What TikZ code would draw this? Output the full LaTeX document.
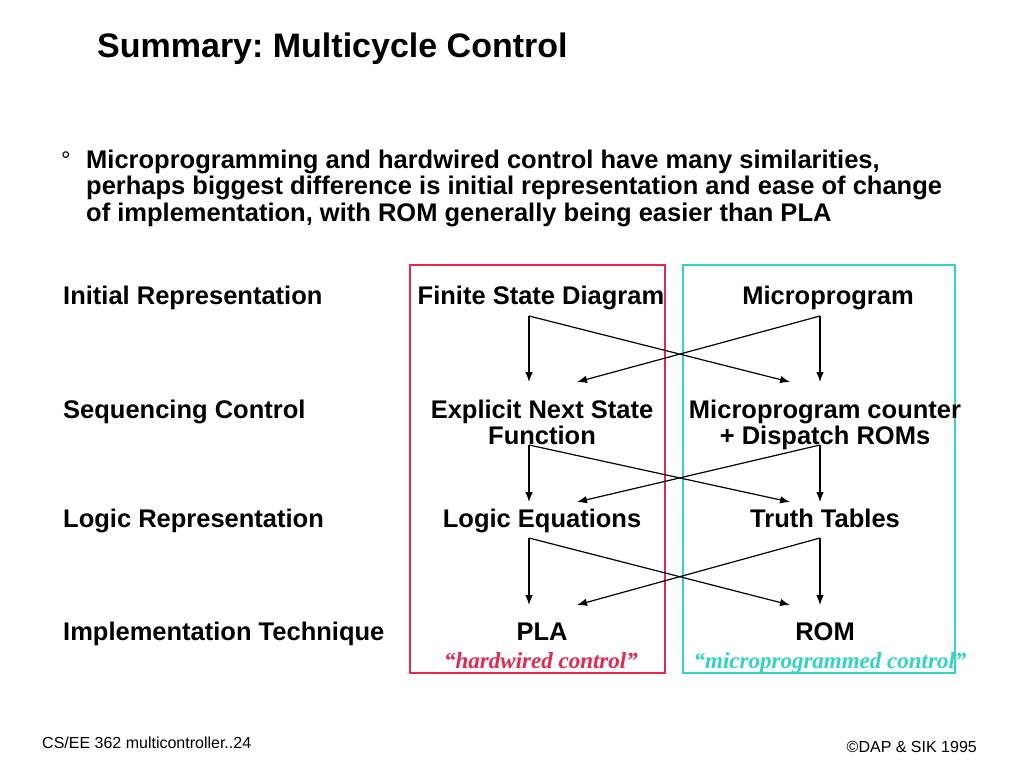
\documentclass[tikz,border=0pt]{standalone}
\usepackage{fontspec}
\setmainfont{Liberation Sans}
\newfontfamily\quotefont{Liberation Serif}
\usetikzlibrary{arrows.meta}
\frenchspacing
\definecolor{hwred}{RGB}{228,40,80}
\definecolor{mpcyan}{RGB}{50,212,192}
\tikzset{
  lbl/.style={anchor=base west, inner sep=0pt, font=\bfseries\fontsize{25.5}{26}\selectfont},
  item/.style={anchor=base, inner sep=0pt, align=center, font=\bfseries\fontsize{25.5}{26}\selectfont},
  quote/.style={anchor=base, inner sep=0pt, font=\quotefont\bfseries\itshape\fontsize{23}{26}\selectfont},
  flow/.style={-{Latex[length=10pt,width=7.5pt]}, line width=1.2pt},
}
\begin{document}
\begin{tikzpicture}[x=1pt,y=-1pt]
		\useasboundingbox (0,0) rectangle (1024,768);
		\node[anchor=base west, inner sep=0pt, font=\bfseries\fontsize{34}{36}\selectfont] (title) at (97,57) {Summary: Multicycle Control};
		\node[anchor=base west, inner sep=0pt, font=\fontsize{24}{26}\selectfont] (dot) at (61,168) {°};
		\node[anchor=base west, inner sep=0pt, align=left, font=\bfseries\fontsize{25.5}{26.5}\selectfont] (intro) at (86,221) {Microprogramming and hardwired control have many similarities,\\
			perhaps biggest difference is initial representation and ease of change\\
			of implementation, with ROM generally being easier than PLA};

		% row labels
		\node[lbl] (initial) at (63,304) {Initial Representation};
		\node[lbl] (sequencing) at (63,418) {Sequencing Control};
		\node[lbl] (logic) at (63,527) {Logic Representation};
		\node[lbl] (impl) at (63,640) {Implementation Technique};

		% the two columns
		\draw[draw=hwred, line width=1.6pt] (410,265) rectangle (665,673);
		\draw[draw=mpcyan, line width=1.6pt] (683,265) rectangle (955,673);

		\node[item] (fsd) at (541,304) {Finite State Diagram};
		\node[item] (mprog) at (828,304) {Microprogram};
		\node[item] (nextstate) at (542,444) {Explicit Next State\\Function};
		\node[item] (counter) at (825,444) {Microprogram counter\\+ Dispatch ROMs};
		\node[item] (equations) at (542,527) {Logic Equations};
		\node[item] (tables) at (825,527) {Truth Tables};
		\node[item] (pla) at (542,640) {PLA};
		\node[item] (rom) at (825,640) {ROM};
		\node[quote, text=hwred] (hardwired) at (541,668) {“hardwired control”};
		\node[quote, text=mpcyan] (microprog) at (830,668) {“microprogrammed control”};

		% arrow ends
		\coordinate (fsd-out) at (529,316);
		\coordinate (mprog-out) at (820,316);
		\coordinate (nextstate-in) at (529,382);
		\coordinate (nextstate-x) at (577,382);
		\coordinate (counter-in) at (820,382);
		\coordinate (counter-x) at (790,382);
		\coordinate (nextstate-out) at (529,445);
		\coordinate (counter-out) at (820,445);
		\coordinate (equations-in) at (529,502);
		\coordinate (equations-x) at (577,502);
		\coordinate (tables-in) at (820,502);
		\coordinate (tables-x) at (790,502);
		\coordinate (equations-out) at (529,538);
		\coordinate (tables-out) at (820,538);
		\coordinate (pla-in) at (529,605);
		\coordinate (pla-x) at (577,605);
		\coordinate (rom-in) at (820,605);
		\coordinate (rom-x) at (790,605);

		\draw[flow] (fsd-out) -- (nextstate-in);
		\draw[flow] (fsd-out) -- (counter-x);
		\draw[flow] (mprog-out) -- (counter-in);
		\draw[flow] (mprog-out) -- (nextstate-x);
		\draw[flow] (nextstate-out) -- (equations-in);
		\draw[flow] (nextstate-out) -- (tables-x);
		\draw[flow] (counter-out) -- (tables-in);
		\draw[flow] (counter-out) -- (equations-x);
		\draw[flow] (equations-out) -- (pla-in);
		\draw[flow] (equations-out) -- (rom-x);
		\draw[flow] (tables-out) -- (rom-in);
		\draw[flow] (tables-out) -- (pla-x);

		% footer
		\node[anchor=base west, inner sep=0pt, font=\fontsize{16}{18}\selectfont] (course) at (42,748) {CS/EE 362 multicontroller..24};
		\node[anchor=base east, inner sep=0pt, font=\fontsize{16}{18}\selectfont] (copy) at (977,752) {©DAP \& SIK 1995};
	\end{tikzpicture}
\end{document}
